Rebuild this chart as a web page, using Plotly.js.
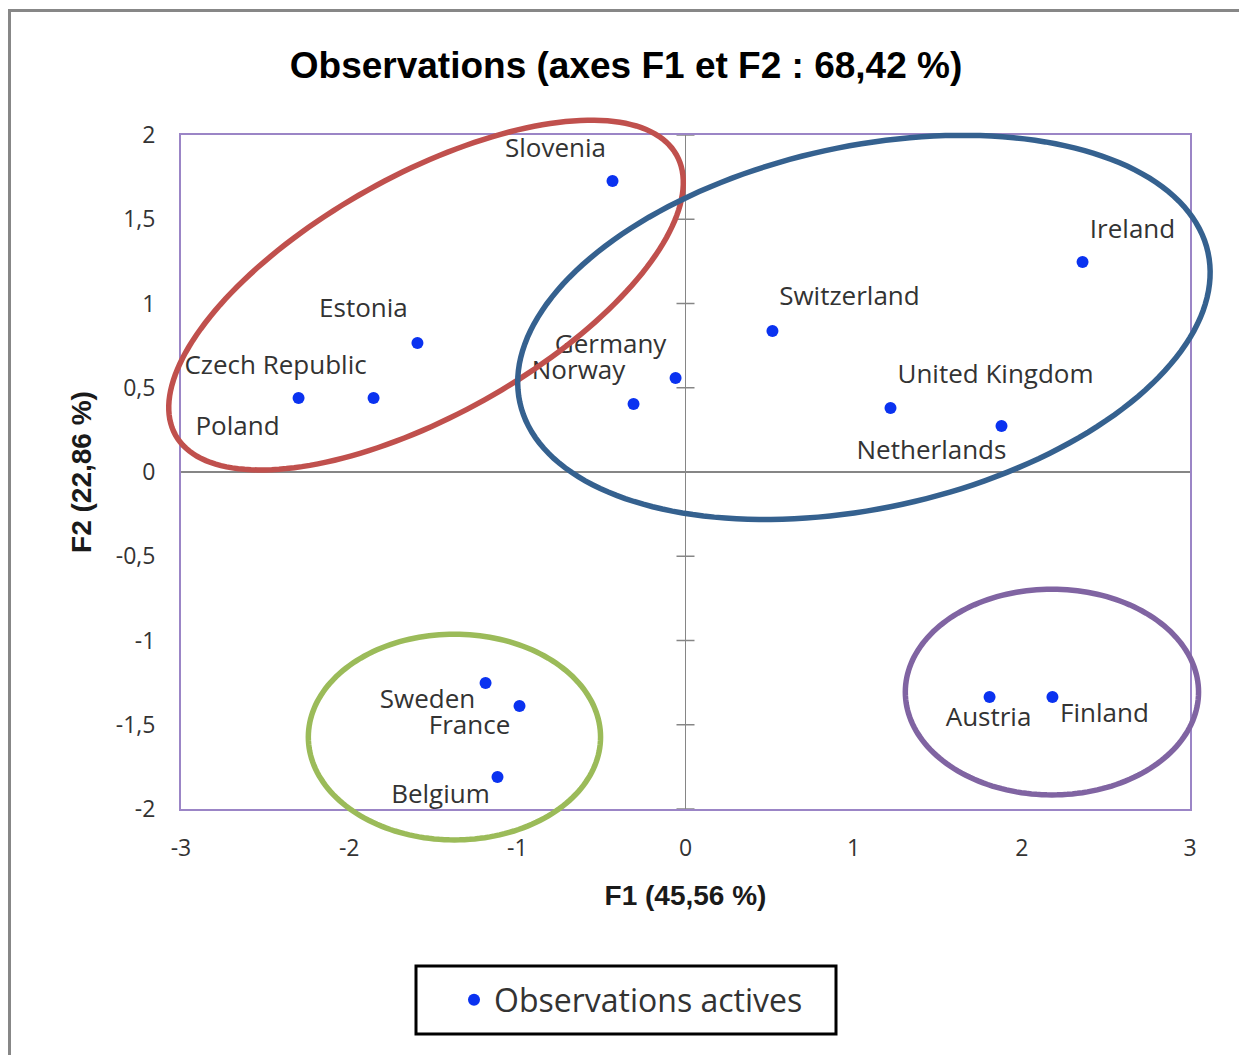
<!DOCTYPE html>
<html>
<head>
<meta charset="utf-8">
<script src="https://cdn.plot.ly/plotly-3.0.1.min.js"></script>
<style>
  html, body { margin: 0; padding: 0; background: #ffffff; }
  #chart { width: 1239px; height: 1055px; }
</style>
</head>
<body>
<div id="chart"></div>
<script>
// ---------- data ----------
var countries = ["Slovenia", "Ireland", "Switzerland", "Estonia", "Czech Republic", "Poland",
                 "Germany", "Norway", "United Kingdom", "Netherlands",
                 "Sweden", "France", "Belgium", "Austria", "Finland"];
var f1 = [-0.434, 2.361, 0.517, -1.594, -1.855, -2.301, -0.059, -0.309, 1.219, 1.879,
          -1.189, -0.987, -1.118, 1.808, 2.182];
var f2 = [1.727, 1.246, 0.837, 0.766, 0.439, 0.439, 0.558, 0.404, 0.380, 0.273,
          -1.252, -1.389, -1.810, -1.335, -1.335];
var seriesName = "Observations actives";
var chartTitle = "Observations (axes F1 et F2 : 68,42 %)";
var xTitle = "F1 (45,56 %)";
var yTitle = "F2 (22,86 %)";
var xTickVals = [-3, -2, -1, 0, 1, 2, 3];
var xTickText = ["-3", "-2", "-1", "0", "1", "2", "3"];
var yTickVals = [-2, -1.5, -1, -0.5, 0, 0.5, 1, 1.5, 2];
var yTickText = ["-2", "-1,5", "-1", "-0,5", "0", "0,5", "1", "1,5", "2"];

// ---------- label offsets (pixels, styling) ----------
var labelDx = [-57, 50, 77, -54, -98, -61, -65, -55, 105, -70, -58, -50, -57, -1, 52];
var labelDy = [-31, -31, -32, -32, -31, 30, -31, -31, -31, 26, 19, 21, 20, 23, 19];

// ---------- group ellipses (centre, semi-axes in data units, rotation deg) ----------
var ellipses = [
  {cx: -1.543, cy: 1.050, a: 1.705, b: 0.713, rot: 29.2, color: "#C0504D"},
  {cx: 1.061,  cy: 0.858, a: 2.092, b: 1.075, rot: 12.3, color: "#35618F"},
  {cx: -1.374, cy: -1.573, a: 0.868, b: 0.611, rot: 0,  color: "#9BBB59"},
  {cx: 2.179,  cy: -1.306, a: 0.871, b: 0.611, rot: 0,  color: "#8064A2"}
];

// ---------- geometry ----------
var W = 1239, H = 1055;
var L = 181, R = 1190, T = 135, B = 809;
var xr = [-3, 3], yr = [-2, 2];
var pxX = (R - L) / (xr[1] - xr[0]);
var pxY = (B - T) / (yr[1] - yr[0]);
var x2range = [xr[0] - L / pxX, xr[1] + (W - R) / pxX];
var y2range = [yr[0] - (H - B) / pxY, yr[1] + T / pxY];

var labelX = f1.map(function (v, i) { return v + labelDx[i] / pxX; });
var labelY = f2.map(function (v, i) { return v - labelDy[i] / pxY; });

function ellipsePath(e) {
  var n = 180, th = e.rot * Math.PI / 180, s = "";
  var unit = (pxX + pxY) / 2;
  for (var k = 0; k <= n; k++) {
    var t = 2 * Math.PI * k / n;
    var ux = e.a * Math.cos(t), uy = e.b * Math.sin(t);
    var dx = (ux * Math.cos(th) - uy * Math.sin(th)) * unit / pxX;
    var dy = (ux * Math.sin(th) + uy * Math.cos(th)) * unit / pxY;
    s += (k === 0 ? "M" : "L") + (e.cx + dx).toFixed(4) + "," + (e.cy + dy).toFixed(4);
  }
  return s + "Z";
}

var labelFont = "Open Sans, Lato, sans-serif";
var boldFont = "Liberation Sans, Arial, sans-serif";
var textColor = "#333333";
var axisGray = "#868686";
var frameColor = "#9B85C6";

var shapes = [];
// outer chart border
shapes.push({type: "rect", xref: "paper", yref: "paper", x0: 9.5 / W, x1: 1.02, y0: -0.02, y1: 1 - 10.5 / H,
             line: {color: "#878787", width: 3}, fillcolor: "rgba(0,0,0,0)", layer: "below"});
// tick marks crossing vertical zero axis
yTickVals.forEach(function (v) {
  shapes.push({type: "line", xref: "x", yref: "y", xsizemode: "pixel", xanchor: 0, x0: -9, x1: 9,
               y0: v, y1: v, line: {color: axisGray, width: 1.5}, layer: "below"});
});
// ellipses
ellipses.forEach(function (e) {
  shapes.push({type: "path", xref: "x2", yref: "y2", path: ellipsePath(e),
               line: {color: e.color, width: 5.5}, fillcolor: "rgba(0,0,0,0)", layer: "above"});
});
// legend box
shapes.push({type: "rect", xref: "paper", yref: "paper", x0: 416 / W, x1: 836 / W, y0: 1 - 1034 / H, y1: 1 - 966 / H,
             line: {color: "#000000", width: 3}, fillcolor: "rgba(0,0,0,0)"});

var traces = [
  {type: "scatter", mode: "markers", x: f1, y: f2, name: seriesName, xaxis: "x", yaxis: "y",
   marker: {color: "#0A32F0", size: 12}, hoverinfo: "skip"},
  {type: "scatter", mode: "text", x: labelX, y: labelY, text: countries, xaxis: "x", yaxis: "y",
   textposition: "middle center", textfont: {family: labelFont, size: 26, color: textColor},
   cliponaxis: true, showlegend: false, hoverinfo: "skip"},
  {type: "scatter", mode: "markers", x: [], y: [], xaxis: "x2", yaxis: "y2", showlegend: false, hoverinfo: "skip"}
];

var layout = {
  width: W, height: H,
  margin: {l: 0, r: 0, t: 0, b: 0, pad: 0},
  paper_bgcolor: "#ffffff", plot_bgcolor: "rgba(0,0,0,0)",
  separators: ", ",
  showlegend: true,
  title: {text: chartTitle, x: 626 / W, xref: "paper", xanchor: "center", y: 1 - 65 / H, yref: "paper", yanchor: "middle",
          font: {family: boldFont, size: 37, weight: "bold", color: "#000000"}},
  xaxis: {domain: [L / W, R / W], range: xr, autorange: false, fixedrange: true,
          tickmode: "array", tickvals: xTickVals, ticktext: xTickText, ticks: "", ticklabelstandoff: 17,
          tickfont: {family: labelFont, size: 23, color: textColor},
          showgrid: false, zeroline: true, zerolinecolor: axisGray, zerolinewidth: 1.5,
          showline: true, mirror: true, linecolor: frameColor, linewidth: 2, anchor: "y", automargin: false,
          title: {text: xTitle, standoff: 24, font: {family: boldFont, size: 28, weight: "bold", color: "#1a1a1a"}}},
  yaxis: {domain: [1 - B / H, 1 - T / H], range: yr, autorange: false, fixedrange: true,
          tickmode: "array", tickvals: yTickVals, ticktext: yTickText, ticks: "", ticklabelstandoff: 19,
          tickfont: {family: labelFont, size: 23, color: textColor},
          showgrid: false, zeroline: true, zerolinecolor: axisGray, zerolinewidth: 1.5,
          showline: true, mirror: true, linecolor: frameColor, linewidth: 2, anchor: "x", automargin: false,
          title: {text: yTitle, standoff: 16, font: {family: boldFont, size: 28, weight: "bold", color: "#1a1a1a"}}},
  xaxis2: {domain: [0, 1], range: x2range, autorange: false, visible: false, anchor: "y2", fixedrange: true},
  yaxis2: {domain: [0, 1], range: y2range, autorange: false, visible: false, anchor: "x2", fixedrange: true},
  legend: {x: 454 / W, xanchor: "left", y: 1 - 1000 / H, yanchor: "middle", orientation: "v",
           bgcolor: "rgba(0,0,0,0)", borderwidth: 0,
           font: {family: labelFont, size: 32, color: textColor}},
  shapes: shapes
};

Plotly.newPlot("chart", traces, layout, {staticPlot: true, displayModeBar: false});
</script>
</body>
</html>
